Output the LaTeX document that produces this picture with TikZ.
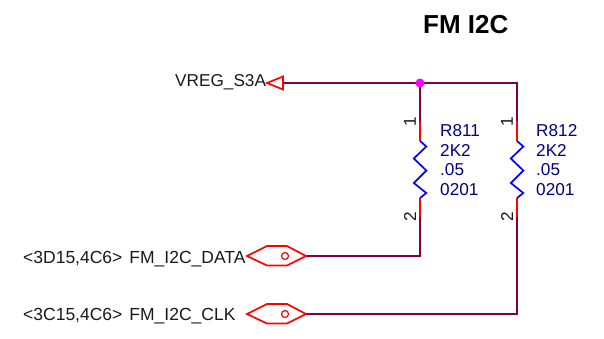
\documentclass[tikz,border=0pt]{standalone}
\usepackage{fontspec}
\setmainfont{Liberation Sans}
\definecolor{wire}{RGB}{128,0,72}
\definecolor{pinred}{RGB}{255,0,0}
\definecolor{resblue}{RGB}{0,0,255}
\definecolor{valblue}{RGB}{0,0,132}
\definecolor{junc}{RGB}{255,0,255}
\tikzset{
  wireline/.style={draw=wire,line width=1.7pt},
  pinline/.style={draw=pinred,line width=1.7pt},
  resline/.style={draw=resblue,line width=1.7pt,line join=miter},
  portline/.style={draw=pinred,line width=1.7pt,line join=miter},
  lbl/.style={inner sep=0pt,anchor=base west,font=\fontsize{17.2}{17}\selectfont,text=black!90},
  netlbl/.style={lbl,font=\fontsize{17.5}{17}\selectfont},
  val/.style={inner sep=0pt,anchor=base west,font=\fontsize{17.2}{17}\selectfont,text=valblue},
  pinnum/.style={inner sep=0pt,rotate=90,font=\fontsize{17.2}{17}\selectfont,text=black!90}
}
\newcommand{\myres}[2]{%
  \coordinate (#1p1) at (#2,121);
  \coordinate (#1a) at (#2,141);
  \coordinate (#1b) at (#2,198);
  \coordinate (#1p2) at (#2,217);
  \draw[pinline] (#1p1) -- (#1a);
  \draw[pinline] (#1b) -- (#1p2);
  \draw[resline] (#1a) -- ++(6.3,5.5) -- ++(-12.5,12) -- ++(12.5,12) -- ++(-12.5,12.5) -- ++(12.5,10) -- (#1b);
}
\begin{document}
\begin{tikzpicture}[x=1pt,y=-1pt]
\useasboundingbox (0,0) rectangle (604,338);
\node[inner sep=0pt,anchor=base west,font=\bfseries\fontsize{26}{26}\selectfont,text=black] (title) at (423,33) {FM I2C};
\node[lbl] (vreg) at (175,86.5) {VREG\_S3A};
\node[netlbl] (data) at (23,263) {<3D15,4C6>\hspace{7pt}FM\_I2C\_DATA};
\node[netlbl] (clk) at (23,320) {<3C15,4C6>\hspace{7pt}FM\_I2C\_CLK};
% power port
\coordinate (vtip) at (267,83);
\coordinate (vbase) at (283,83);
\draw[portline] (vtip) -- (283,76.5) -- (283,89.5) -- cycle;
% nets
\myres{ra}{420}
\myres{rb}{517}
\coordinate (top) at (420,83);
\coordinate (corner) at (517,83);
\coordinate (pd) at (306,256);
\coordinate (pc) at (306,314);
\draw[wireline] (vbase) -- (top) -- (corner) -- (rbp1);
\draw[wireline] (top) -- (rap1);
\draw[wireline] (rap2) |- (pd);
\draw[wireline] (rbp2) |- (pc);
\fill[junc] (top) circle (4.5);
% hex ports
\draw[portline] (247,256) -- (267,246) -- (287,246) -- (306,256) -- (287,265.5) -- (267,265.5) -- cycle;
\draw[portline,line width=1.2pt] (285,256) circle (3.5);
\draw[portline] (247,314) -- (267,304) -- (287,304) -- (306,314) -- (287,323.5) -- (267,323.5) -- cycle;
\draw[portline,line width=1.2pt] (285,314) circle (3.5);
% pin numbers
\node[pinnum] (n1a) at (410,122) {1};
\node[pinnum] (n2a) at (410,217) {2};
\node[pinnum] (n1b) at (507,122) {1};
\node[pinnum] (n2b) at (507,217) {2};
% values
\node[val] (ra1) at (440,136.5) {R811};
\node[val] (ra2) at (440,156) {2K2};
\node[val] (ra3) at (440,175.5) {.05};
\node[val] (ra4) at (440,195.5) {0201};
\node[val] (rb1) at (536,136.5) {R812};
\node[val] (rb2) at (536,156) {2K2};
\node[val] (rb3) at (536,175.5) {.05};
\node[val] (rb4) at (536,195.5) {0201};
\end{tikzpicture}
\end{document}
